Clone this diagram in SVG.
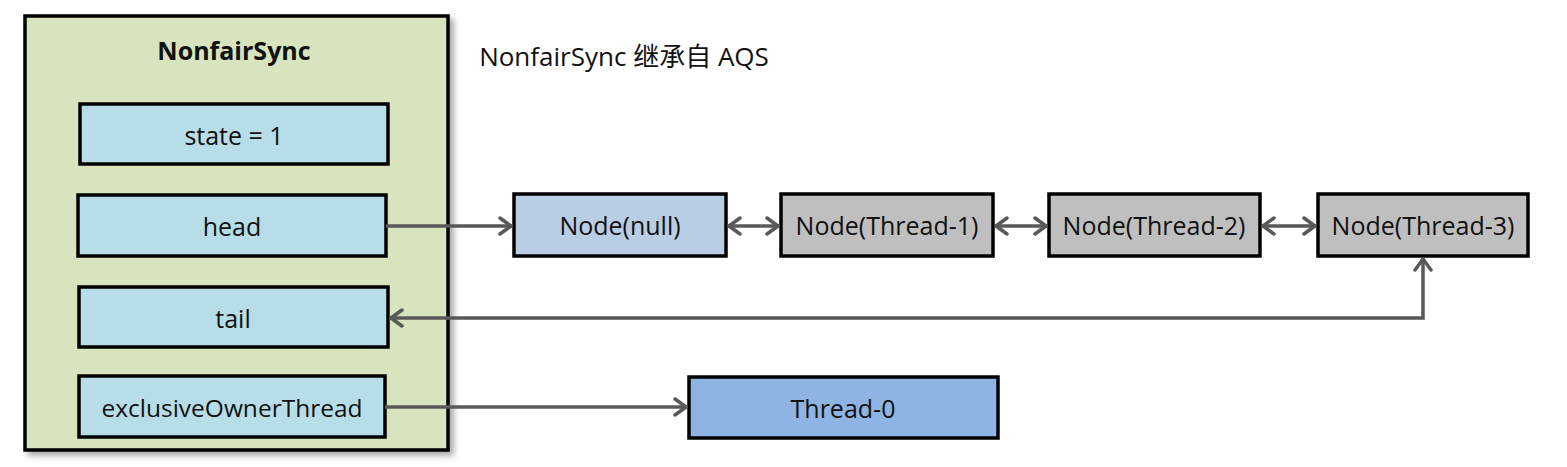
<svg xmlns="http://www.w3.org/2000/svg" width="1567" height="467" viewBox="0 0 1567 467">
<defs>
<style>
.t{font-family:"Open Sans","Noto Sans","Noto Sans CJK SC",sans-serif;font-size:25px;fill:#111;text-anchor:middle;dominant-baseline:central}
.box{stroke:#000;stroke-width:3.5}
.c{fill:none;stroke:#595959;stroke-width:3.5}
</style>
<marker id="ah" viewBox="0 0 15 20" refX="14" refY="10" markerWidth="15" markerHeight="20" markerUnits="userSpaceOnUse" orient="auto-start-reverse">
<path d="M2,2 L13,10 L2,18" fill="none" stroke="#595959" stroke-width="3.5" stroke-linecap="round" stroke-linejoin="round"/>
</marker>
<filter id="sh" x="-5%" y="-5%" width="115%" height="115%">
<feGaussianBlur in="SourceAlpha" stdDeviation="3"/>
<feOffset dx="4" dy="4"/>
<feComponentTransfer><feFuncA type="linear" slope="0.35"/></feComponentTransfer>
<feMerge><feMergeNode/><feMergeNode in="SourceGraphic"/></feMerge>
</filter>
</defs>
<rect width="1567" height="467" fill="#fff"/>
<g id="nonfairSync">
<rect class="box" x="25" y="16" width="423" height="434" fill="#d7e4bd" filter="url(#sh)"/>
<text class="t" x="234" y="50" style="font-weight:bold;font-size:25px">NonfairSync</text>
</g>
<text class="t" x="624" y="56" style="font-size:26px">NonfairSync 继承自 AQS</text>
<g id="state"><rect class="box" x="80" y="104" width="308" height="60" fill="#b7dee8"/><text class="t" x="234" y="135">state = 1</text></g>
<g id="head"><rect class="box" x="78" y="195" width="308" height="61" fill="#b7dee8"/><text class="t" x="232" y="226">head</text></g>
<g id="tail"><rect class="box" x="79" y="287" width="309" height="60" fill="#b7dee8"/><text class="t" x="233" y="318">tail</text></g>
<g id="exclusiveOwnerThread"><rect class="box" x="79" y="376" width="306" height="61" fill="#b7dee8"/><text class="t" x="232" y="407" style="font-size:24.5px">exclusiveOwnerThread</text></g>
<g id="nodeNull"><rect class="box" x="514" y="194" width="212" height="62" fill="#b9cde5"/><text class="t" x="620" y="225">Node(null)</text></g>
<g id="nodeT1"><rect class="box" x="781" y="194" width="212" height="62" fill="#bfbfbf"/><text class="t" x="887" y="225">Node(Thread-1)</text></g>
<g id="nodeT2"><rect class="box" x="1049" y="194" width="211" height="62" fill="#bfbfbf"/><text class="t" x="1154" y="225">Node(Thread-2)</text></g>
<g id="nodeT3"><rect class="box" x="1318" y="194" width="210" height="62" fill="#bfbfbf"/><text class="t" x="1423" y="225">Node(Thread-3)</text></g>
<g id="thread0"><rect class="box" x="689" y="377" width="309" height="61" fill="#8eb4e3"/><text class="t" x="843" y="408">Thread-0</text></g>
<g id="connectors">
<path class="c" d="M386,226 L512,226" marker-end="url(#ah)"/>
<path class="c" d="M728,226 L779,226" marker-start="url(#ah)" marker-end="url(#ah)"/>
<path class="c" d="M995,226 L1047,226" marker-start="url(#ah)" marker-end="url(#ah)"/>
<path class="c" d="M1262,226 L1316,226" marker-start="url(#ah)" marker-end="url(#ah)"/>
<path class="c" d="M390,318 L1423,318 L1423,258" marker-start="url(#ah)" marker-end="url(#ah)"/>
<path class="c" d="M385,407 L687,407" marker-end="url(#ah)"/>
</g>
</svg>
